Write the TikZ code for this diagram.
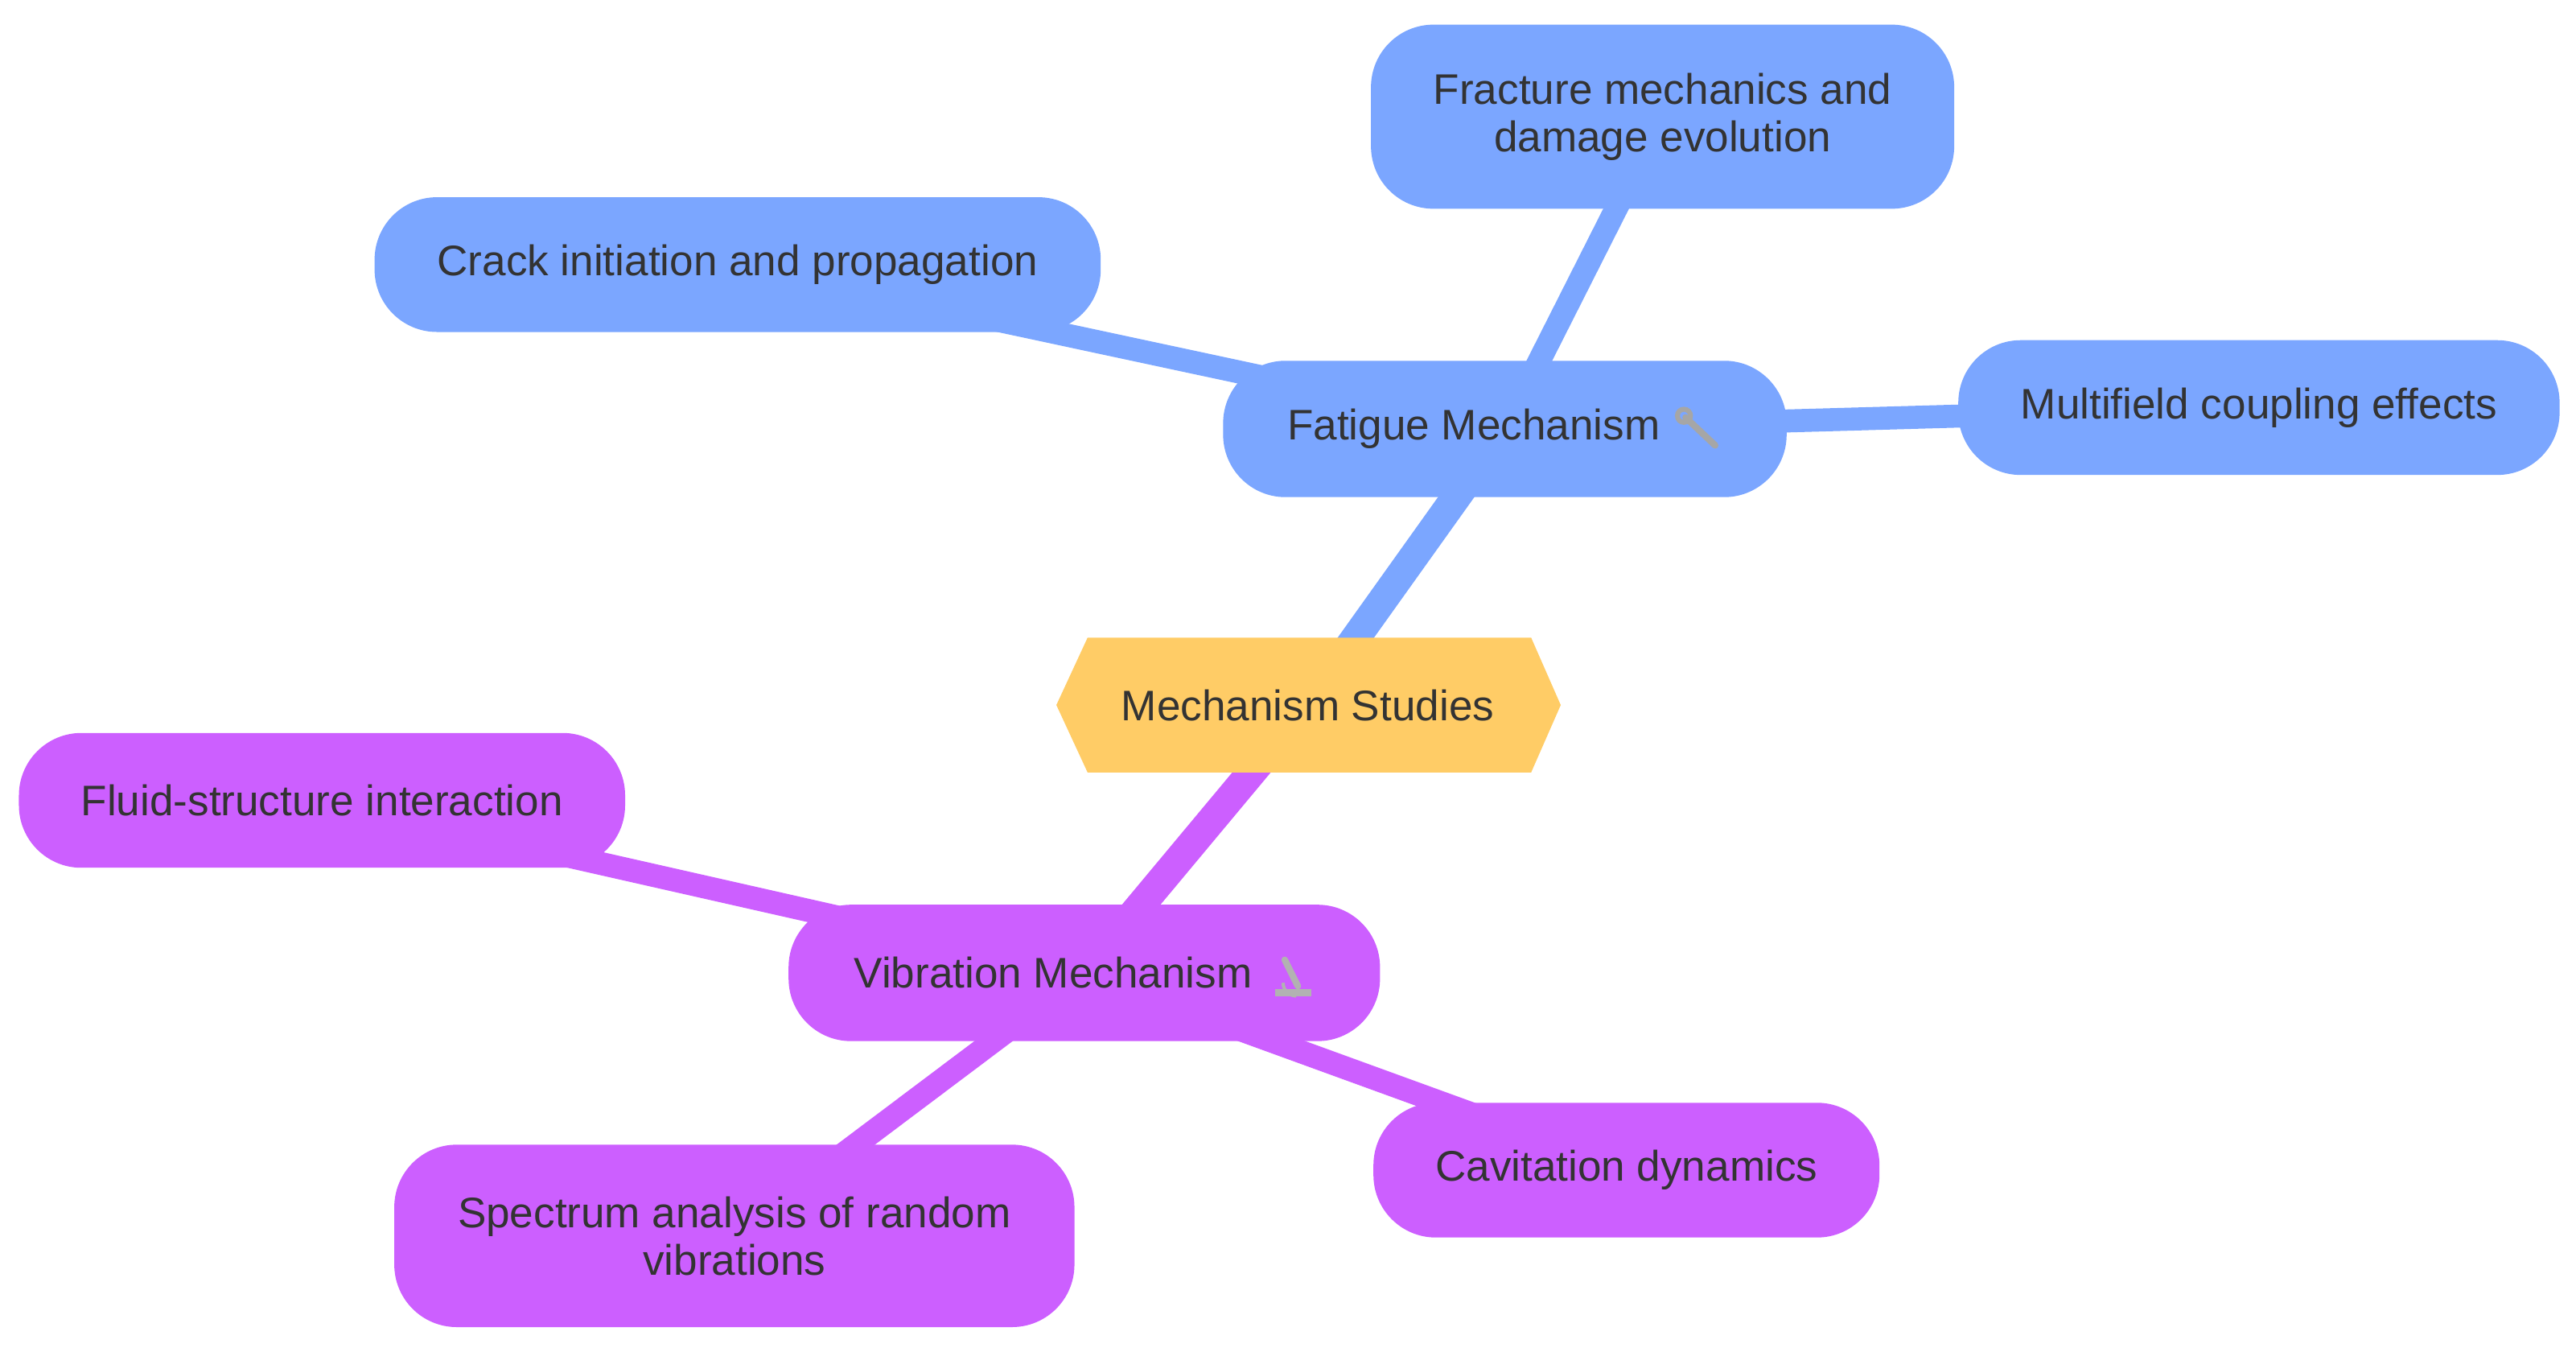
\documentclass[tikz,border=0pt]{standalone}
\usepackage{fontspec}
\setmainfont{Liberation Sans}
\usetikzlibrary{backgrounds}
\definecolor{blu}{HTML}{7BA6FF}
\definecolor{pur}{HTML}{CC5FFF}
\definecolor{yel}{HTML}{FFCC66}
\definecolor{txt}{HTML}{333333}
\begin{document}
\begin{tikzpicture}[x=1pt,y=-1pt,
  every node/.style={font=\fontsize{26}{29}\selectfont, text=txt, align=center},
  b/.style={fill=blu, rounded corners=38pt, inner sep=0pt},
  p/.style={fill=pur, rounded corners=38pt, inner sep=0pt},
  eb/.style={draw=blu, line width=14pt},
  ep/.style={draw=pur, line width=14pt}]
\useasboundingbox (0,0) rectangle (1568,820);
\node[b, minimum width=355pt, minimum height=112pt] (frac) at (1012,71) {Fracture mechanics and\\damage evolution};
\node[b, minimum width=442pt, minimum height=82pt] (crack) at (449,161) {Crack initiation and propagation};
\node[b, minimum width=343pt, minimum height=83pt] (fat) at (916,261) {Fatigue Mechanism\hspace{38pt}};
\node[b, minimum width=366pt, minimum height=82pt] (multi) at (1375,248) {Multifield coupling effects};
\fill[yel] (643,429) -- (662,388) -- (932,388) -- (950,429) -- (932,470) -- (662,470) -- cycle;
\node (root) at (796,429) {Mechanism Studies};
\node[p, minimum width=369pt, minimum height=82pt] (fluid) at (196,487) {Fluid-structure interaction};
\node[p, minimum width=360pt, minimum height=83pt] (vib) at (660,592) {Vibration Mechanism\hspace{38pt}};
\node[p, minimum width=414pt, minimum height=111pt] (spec) at (447,752) {Spectrum analysis of random\\vibrations};
\node[p, minimum width=308pt, minimum height=82pt] (cav) at (990,712) {Cavitation dynamics};
\begin{scope}[on background layer]
\draw[eb, line width=18pt] (root.center) -- (fat.center);
\draw[eb] (fat.center) -- (frac.center);
\draw[eb] (fat.center) -- (crack.center);
\draw[eb] (fat.center) -- (multi.center);
\draw[ep, line width=18pt] (root.center) -- (vib.center);
\draw[ep] (vib.center) -- (fluid.center);
\draw[ep] (vib.center) -- (spec.center);
\draw[ep] (vib.center) -- (cav.center);
\end{scope}
% emoji-like glyphs
\draw[gray!70, line width=4pt, line cap=round] (1026,254) -- (1044,271);
\draw[gray!70, line width=3pt] (1025,253) circle (4pt);
\draw[gray!60, line width=4pt, line cap=round] (782,584) -- (790,600);
\fill[gray!60] (776,602) rectangle (798,606);
\draw[gray!60, line width=2pt] (781,598) arc (180:90:8);
\end{tikzpicture}
\end{document}
